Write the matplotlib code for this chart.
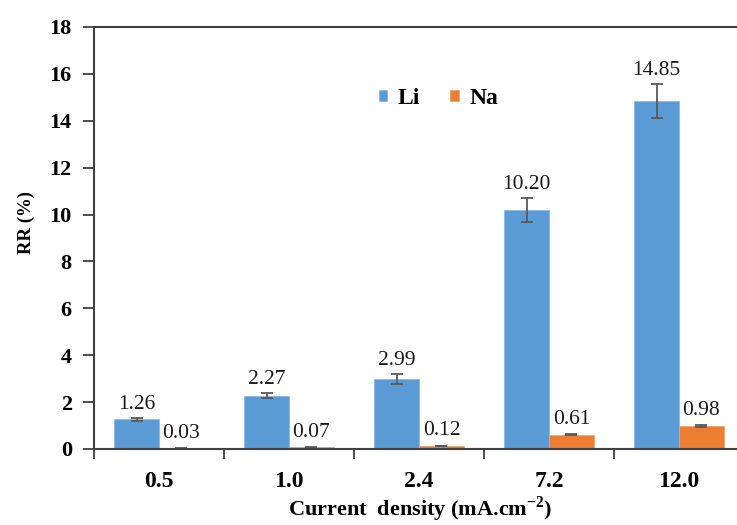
import numpy as np
import matplotlib.pyplot as plt

# Data
categories = ["0.5", "1.0", "2.4", "7.2", "12.0"]
li_values = [1.26, 2.27, 2.99, 10.20, 14.85]
na_values = [0.03, 0.07, 0.12, 0.61, 0.98]
li_err = [0.07, 0.10, 0.21, 0.50, 0.72]
na_err = [0.01, 0.01, 0.01, 0.02, 0.04]
li_labels = ["1.26", "2.27", "2.99", "10.20", "14.85"]
na_labels = ["0.03", "0.07", "0.12", "0.61", "0.98"]

plt.rcParams['font.family'] = ['Liberation Serif', 'DejaVu Serif']
plt.rcParams['mathtext.fontset'] = 'custom'
plt.rcParams['mathtext.rm'] = 'Liberation Serif'
plt.rcParams['mathtext.bf'] = 'Liberation Serif:bold'

fig = plt.figure(figsize=(7.37, 5.25), dpi=100)
# axes extend a little past the right edge, as in the cropped original
ax = fig.add_axes([94 / 737, 1 - 449 / 525, 650 / 737, 422 / 525])

x = np.arange(len(categories))
w = 0.346
blue = "#5B9BD5"
orange = "#ED7D31"
err_kw = dict(ecolor="#595959", elinewidth=1.3, capsize=4, capthick=1.3)

ax.bar(x - w / 2, li_values, w, color=blue, edgecolor="#8DB9E6", linewidth=0.6,
       yerr=li_err, error_kw=err_kw, label="Li")
ax.bar(x + w / 2, na_values, w, color=orange, edgecolor="#F2A26E", linewidth=0.6,
       yerr=na_err, error_kw=err_kw, label="Na")

for i in range(len(categories)):
    ax.annotate(li_labels[i], (x[i] - w / 2, li_values[i] + li_err[i]),
                xytext=(0, 3), textcoords="offset points",
                ha="center", va="bottom", fontsize=15.5, color="#1a1a1a")
    ax.annotate(na_labels[i], (x[i] + w / 2, na_values[i] + na_err[i]),
                xytext=(0, 4), textcoords="offset points",
                ha="center", va="bottom", fontsize=15.5, color="#1a1a1a")

ax.set_xlim(-0.5, 4.5)
ax.set_ylim(0, 18)
ax.set_yticks(np.arange(0, 19, 2))
ax.set_xticks(x)
ax.set_xticklabels(categories, fontweight="bold", fontsize=17)
ax.set_xticks(np.arange(-0.5, 5, 1), minor=True)
ax.tick_params(axis="x", which="major", length=0, pad=16)
ax.tick_params(axis="x", which="minor", length=7, width=1.3, color="#404040", direction="out")
ax.tick_params(axis="y", length=8, width=1.3, color="#404040", direction="out", pad=8)
for lab in ax.get_yticklabels():
    lab.set_fontweight("bold")
    lab.set_fontsize(16)

for side in ["left", "bottom", "top"]:
    ax.spines[side].set_color("#404040")
    ax.spines[side].set_linewidth(1.5)
ax.spines["right"].set_visible(False)

ax.set_ylabel("RR (%)", fontweight="bold", fontsize=13.5)
ax.yaxis.set_label_coords(-(94 - 35) / 650, (449 - 223) / 422)
fig.text(420 / 737, 1 - 509 / 525, "Current  density (mA.cm$^{\\mathbf{-2}}$)",
         fontweight="bold", fontsize=16, ha="center", va="center")

ax.legend(loc="upper left", bbox_to_anchor=(0.405, 0.905), ncol=2, frameon=False,
          prop={"weight": "bold", "size": 17}, handlelength=0.35, handleheight=0.35,
          handletextpad=0.45, columnspacing=1.3)

fig.savefig("out.png", dpi=100)
